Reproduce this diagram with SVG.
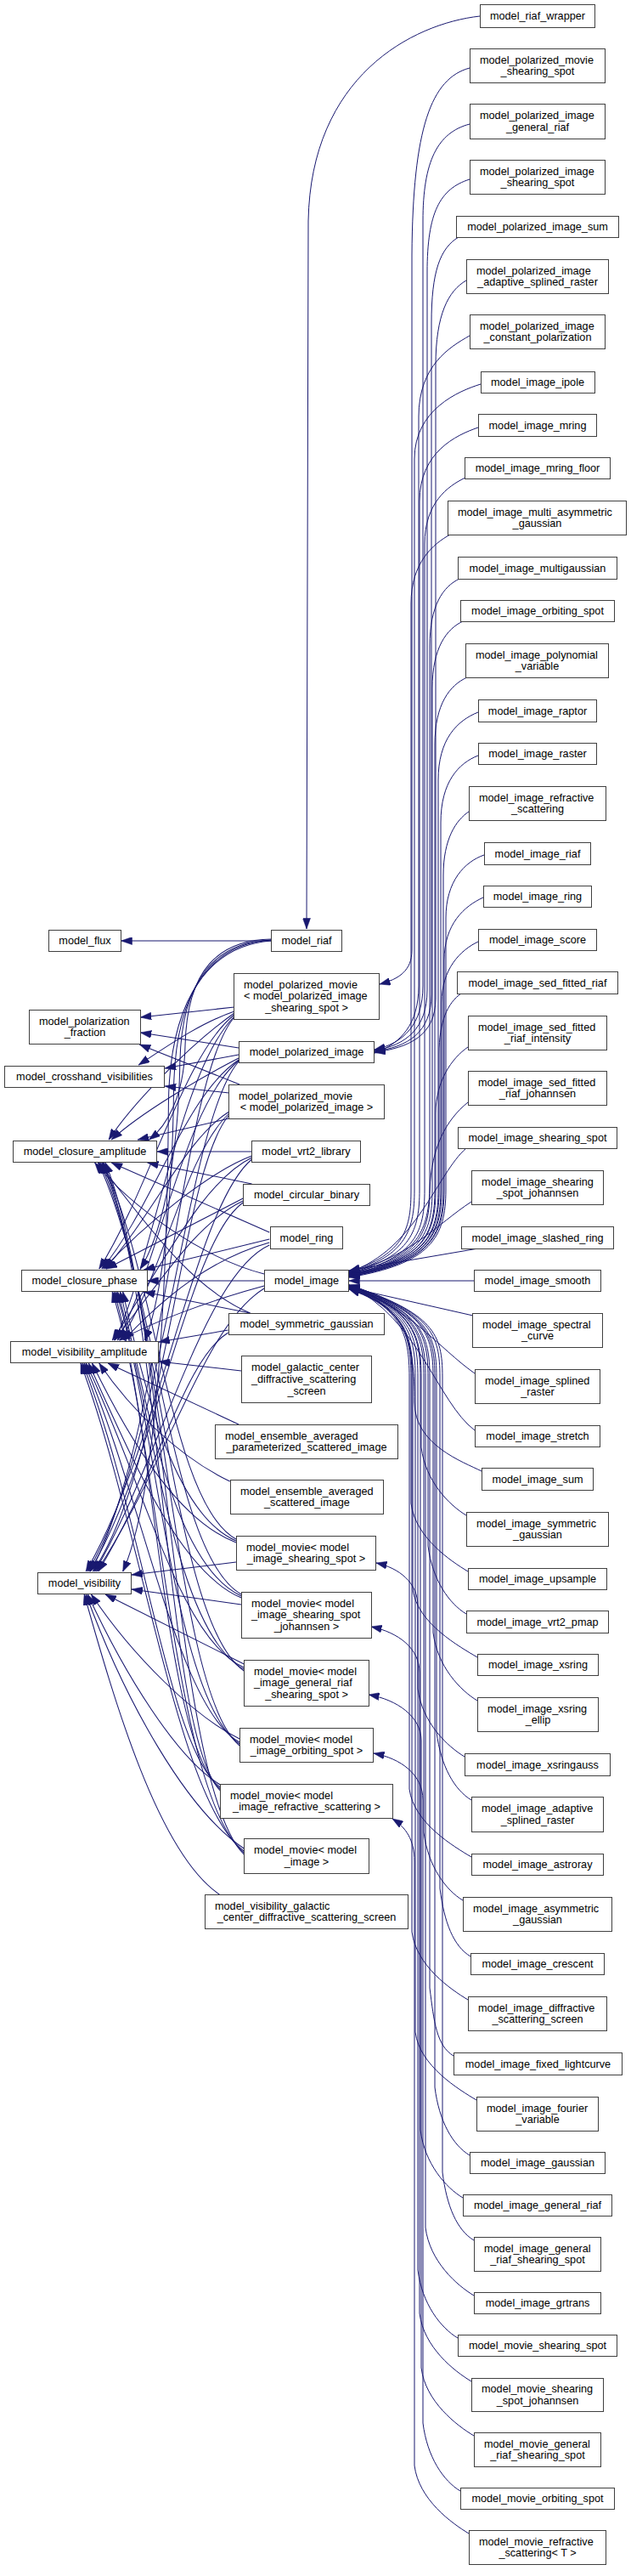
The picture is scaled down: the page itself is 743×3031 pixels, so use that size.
<svg xmlns="http://www.w3.org/2000/svg" width="743" height="3031" viewBox="0 0 743 3031">
<defs>
<marker id="ah" markerWidth="13" markerHeight="9" refX="12.5" refY="4.5" orient="auto" markerUnits="userSpaceOnUse"><path d="M0,0L12.5,4.5L0,9z" fill="#191970" stroke="#191970" stroke-width="0.5"/></marker>
<style>
.n rect{fill:#fff;stroke:#404040;stroke-width:1}
.n text{font-family:"Liberation Sans",Arial,Helvetica,sans-serif;font-size:12.7px;fill:#000;text-anchor:middle}
.n text.l{text-anchor:start}
.e path{fill:none;stroke:#191970;stroke-width:1;marker-end:url(#ah)}
</style>
</defs>
<g id="connectors" class="e">
<path d="M565,19 C485,28 366,90 363,260 L361,1093"/>
<path d="M553,80 C508,92 486,150 485,300 L485,1118 C485,1142 470,1152 447,1158"/>
<path d="M553,146 C515,156 498,190 498,260 L498,1160 C498,1205 475,1228 441,1235"/>
<path d="M553,211 C518,222 503,250 503,320 L503,1165 C503,1210 478,1230 441,1236"/>
<path d="M540,279 C518,292 508,320 508,380 L508,1170 C508,1215 480,1232 441,1237"/>
<path d="M549,330 C528,342 513,370 513,430 L513,1175 C513,1218 482,1233 441,1238"/>
<path d="M553,395 C530,408 493,430 493,490 L493,1160 C493,1205 472,1228 441,1239"/>
<path d="M566,452 C540,460 488,482 488,540 L488,1400 C488,1445 480,1478 411,1497"/>
<path d="M563,503 C537,512 494,532 494,590 L494,1400 C494,1447 485,1479 411,1498"/>
<path d="M548,562 C527,572 500,592 500,640 L500,1400 C500,1449 490,1480 411,1499"/>
<path d="M530,629 C510,640 484,662 484,710 L484,1400 C484,1443 478,1476 411,1496"/>
<path d="M541,681 C522,690 506,712 506,760 L506,1400 C506,1450 495,1481 411,1500"/>
<path d="M545,731 C526,740 509,762 509,810 L509,1400 C509,1451 497,1482 411,1500"/>
<path d="M550,797 C530,806 512,828 512,876 L512,1400 C512,1452 499,1483 411,1501"/>
<path d="M563,838 C538,848 516,870 516,918 L516,1400 C516,1453 501,1484 411,1501"/>
<path d="M563,889 C540,898 519,920 519,968 L519,1400 C519,1454 503,1485 411,1502"/>
<path d="M552,955 C537,965 522,987 522,1030 L522,1400 C522,1455 505,1486 411,1502"/>
<path d="M570,1006 C547,1014 525,1037 525,1080 L525,1400 C525,1456 507,1487 411,1503"/>
<path d="M569,1056 C547,1066 523,1087 523,1130 L523,1400 C523,1455 506,1486 411,1502"/>
<path d="M563,1108 C542,1118 520,1140 520,1180 L520,1400 C520,1454 504,1485 411,1501"/>
<path d="M543,1169 C527,1180 517,1202 517,1240 L517,1400 C517,1453 502,1484 411,1500"/>
<path d="M551,1232 C532,1245 513,1272 513,1310 L513,1400 C513,1452 500,1483 411,1499"/>
<path d="M551,1297 C525,1318 508,1350 506,1400 C504,1450 490,1482 411,1498"/>
<path d="M549,1351 C515,1380 490,1470 411,1497"/>
<path d="M555,1414 C515,1440 480,1482 411,1496"/>
<path d="M563,1469 L411,1495"/>
<path d="M558,1507 L411,1507"/>
<path d="M557,1548 L411,1515"/>
<path d="M559,1616 C515,1585 485,1540 411,1514"/>
<path d="M559,1683 C515,1650 492,1550 411,1513"/>
<path d="M567,1731 C545,1720 488,1700 488,1650 C488,1580 480,1540 411,1513"/>
<path d="M549,1783 C529,1771 501,1743 496,1703 L496,1620 C496,1570 486,1540 411,1514"/>
<path d="M551,1849 C531,1837 489,1809 484,1769 L484,1620 C484,1570 474,1538 411,1515"/>
<path d="M549,1899 C529,1887 509,1859 504,1819 L504,1620 C504,1570 494,1541 411,1514"/>
<path d="M562,1950 C542,1938 491,1910 486,1870 L486,1620 C486,1570 476,1539 411,1516"/>
<path d="M562,2001 C542,1989 515,1961 510,1921 L510,1620 C510,1570 500,1542 411,1513"/>
<path d="M547,2067 C527,2055 497,2027 492,1987 L492,1620 C492,1570 482,1540 411,1515"/>
<path d="M555,2118 C535,2106 519,2078 514,2038 L514,1620 C514,1570 504,1543 411,1512"/>
<path d="M555,2185 C535,2173 487,2145 482,2105 L482,1620 C482,1570 472,1538 411,1516"/>
<path d="M545,2236 C525,2224 504,2196 499,2156 L499,1620 C499,1570 489,1541 411,1514"/>
<path d="M554,2302 C534,2290 523,2262 518,2222 L518,1620 C518,1570 508,1544 411,1512"/>
<path d="M551,2353 C531,2341 490,2313 485,2273 L485,1620 C485,1570 475,1539 411,1517"/>
<path d="M534,2419 C514,2407 511,2379 506,2339 L506,1620 C506,1570 496,1542 411,1513"/>
<path d="M561,2471 C541,2459 494,2431 489,2391 L489,1620 C489,1570 479,1540 411,1516"/>
<path d="M553,2536 C533,2524 517,2496 512,2456 L512,1620 C512,1570 502,1543 411,1513"/>
<path d="M545,2586 C525,2574 500,2546 495,2506 L495,1620 C495,1570 485,1540 411,1515"/>
<path d="M558,2636 C538,2624 526,2596 521,2556 L521,1620 C521,1570 511,1545 411,1512"/>
<path d="M558,2701 C538,2689 506,2661 501,2621 L501,1620 C501,1570 491,1541 411,1514"/>
<path d="M539,2751 C519,2739 497,2711 492,2671 L492,1890 C492,1862 470,1845 443,1839"/>
<path d="M555,2802 C535,2790 499,2762 494,2722 L494,1968 C494,1940 470,1921 437,1914"/>
<path d="M558,2866 C538,2854 501,2826 496,2786 L496,2048 C496,2020 468,2000 434,1994"/>
<path d="M542,2931 C522,2919 503,2891 498,2851 L498,2118 C498,2088 472,2069 440,2063"/>
<path d="M552,2981 C532,2969 493,2941 488,2901 L488,2190 C488,2165 478,2150 462,2140"/>
<g transform="matrix(1.0333,0,0,1,0,0)">
<path d="M309,1107 L138,1107"/>
<path d="M309,1105 C250,1106 213,1140 211,1230 C210,1290 190,1325 170,1341"/>
<path d="M309,1106 C248,1108 207,1150 205,1250 C203,1380 180,1460 160,1493"/>
<path d="M309,1106 C245,1110 200,1160 198,1280 C196,1450 180,1540 165,1577"/>
<path d="M309,1107 C242,1112 193,1170 192,1300 C190,1600 170,1780 140,1849"/>
<path d="M267,1185 L160,1197"/>
<path d="M267,1190 C225,1205 185,1235 158,1253"/>
<path d="M267,1192 C215,1230 150,1300 124,1341"/>
<path d="M267,1194 C210,1240 170,1400 113,1493"/>
<path d="M267,1196 C205,1260 175,1480 131,1577"/>
<path d="M267,1197 C205,1270 185,1700 103,1849"/>
<path d="M272,1233 L160,1215"/>
<path d="M272,1241 L188,1257"/>
<path d="M272,1245 C225,1270 160,1310 127,1341"/>
<path d="M272,1247 C210,1290 175,1420 116,1493"/>
<path d="M272,1248 C210,1300 180,1490 134,1577"/>
<path d="M272,1249 C212,1320 188,1700 100,1849"/>
<path d="M273,1276 L159,1229"/>
<path d="M261,1286 L188,1278"/>
<path d="M261,1316 L157,1341"/>
<path d="M261,1308 C212,1340 180,1420 120,1493"/>
<path d="M261,1310 C210,1360 186,1500 137,1577"/>
<path d="M261,1312 C205,1380 190,1720 106,1849"/>
<path d="M287,1355 L179,1355"/>
<path d="M287,1360 C240,1378 165,1440 118,1493"/>
<path d="M287,1362 C232,1390 190,1480 128,1577"/>
<path d="M287,1364 C222,1420 182,1700 98,1849"/>
<path d="M287,1393 L168,1368"/>
<path d="M277,1410 L121,1493"/>
<path d="M277,1413 C222,1440 182,1510 130,1577"/>
<path d="M277,1415 C215,1460 178,1720 102,1849"/>
<path d="M307,1450 L127,1368"/>
<path d="M307,1458 L164,1494"/>
<path d="M307,1462 C245,1480 192,1520 141,1577"/>
<path d="M307,1465 C232,1500 182,1720 108,1849"/>
<path d="M301,1499 C230,1480 150,1420 108,1368"/>
<path d="M301,1507 L168,1507"/>
<path d="M301,1513 C240,1530 175,1555 136,1577"/>
<path d="M301,1516 C232,1560 192,1720 110,1849"/>
<path d="M285,1545 C215,1515 160,1430 112,1368"/>
<path d="M285,1545 L164,1520"/>
<path d="M260,1565 L181,1579"/>
<path d="M260,1568 C210,1600 182,1730 112,1849"/>
<path d="M275,1613 L181,1602"/>
<path d="M272,1676 L123,1604"/>
<path d="M262,1743 C205,1715 150,1660 113,1604"/>
<path d="M269,1838 L150,1853"/>
<path d="M269,1815 C205,1790 150,1700 105,1604"/>
<path d="M269,1813 C195,1780 162,1620 140,1520"/>
<path d="M269,1811 C195,1770 178,1500 117,1368"/>
<path d="M275,1888 L150,1870"/>
<path d="M275,1880 C205,1850 152,1720 101,1604"/>
<path d="M275,1878 C195,1840 166,1640 137,1520"/>
<path d="M275,1876 C195,1830 180,1520 112,1368"/>
<path d="M278,1958 L120,1876"/>
<path d="M278,1962 C205,1930 162,1740 98,1604"/>
<path d="M278,1964 C197,1920 172,1650 134,1520"/>
<path d="M278,1966 C197,1910 182,1520 114,1368"/>
<path d="M273,2046 C222,2020 152,1950 104,1876"/>
<path d="M273,2050 C202,2010 162,1760 96,1604"/>
<path d="M273,2052 C197,2000 177,1660 132,1520"/>
<path d="M273,2054 C197,1990 187,1530 116,1368"/>
<path d="M251,2100 C202,2070 142,1970 100,1876"/>
<path d="M251,2103 C192,2060 162,1780 94,1604"/>
<path d="M251,2105 C187,2050 177,1680 130,1520"/>
<path d="M251,2107 C187,2040 187,1540 118,1368"/>
<path d="M278,2175 C212,2130 142,2000 98,1876"/>
<path d="M278,2178 C202,2120 162,1800 92,1604"/>
<path d="M278,2180 C197,2110 182,1700 128,1520"/>
<path d="M278,2182 C197,2100 192,1550 120,1368"/>
<path d="M250,2229 C180,2180 130,2000 96,1876"/>
</g>
</g>
<g id="model_riaf_wrapper" class="n"><rect x="565.5" y="5.5" width="135" height="27"/><text x="633" y="23">model_riaf_wrapper</text></g>
<g id="model_polarized_movie_shearing_spot" class="n"><rect x="553.5" y="57.5" width="159" height="40"/><text class="l" x="565" y="74.5">model_polarized_movie</text><text x="633" y="88.2">_shearing_spot</text></g>
<g id="model_polarized_image_general_riaf" class="n"><rect x="553.5" y="122.5" width="159" height="41"/><text class="l" x="565" y="140">model_polarized_image</text><text x="633" y="153.7">_general_riaf</text></g>
<g id="model_polarized_image_shearing_spot" class="n"><rect x="553.5" y="188.5" width="159" height="40"/><text class="l" x="565" y="205.5">model_polarized_image</text><text x="633" y="219.2">_shearing_spot</text></g>
<g id="model_polarized_image_sum" class="n"><rect x="537.5" y="254.5" width="191" height="25"/><text x="633" y="271">model_polarized_image_sum</text></g>
<g id="model_polarized_image_adaptive_splined_raster" class="n"><rect x="549.5" y="305.5" width="167" height="40"/><text class="l" x="561" y="322.5">model_polarized_image</text><text x="633" y="336.2">_adaptive_splined_raster</text></g>
<g id="model_polarized_image_constant_polarization" class="n"><rect x="553.5" y="370.5" width="159" height="40"/><text class="l" x="565" y="387.5">model_polarized_image</text><text x="633" y="401.2">_constant_polarization</text></g>
<g id="model_image_ipole" class="n"><rect x="566.5" y="437.5" width="134" height="25"/><text x="633" y="454">model_image_ipole</text></g>
<g id="model_image_mring" class="n"><rect x="563.5" y="487.5" width="139" height="26"/><text x="633" y="504.5">model_image_mring</text></g>
<g id="model_image_mring_floor" class="n"><rect x="547.5" y="538.5" width="171" height="25"/><text x="633" y="555">model_image_mring_floor</text></g>
<g id="model_image_multi_asymmetric_gaussian" class="n"><rect x="527.5" y="589.5" width="210" height="40"/><text class="l" x="539" y="606.5">model_image_multi_asymmetric</text><text x="632.5" y="620.2">_gaussian</text></g>
<g id="model_image_multigaussian" class="n"><rect x="539.5" y="655.5" width="187" height="26"/><text x="633" y="672.5">model_image_multigaussian</text></g>
<g id="model_image_orbiting_spot" class="n"><rect x="542.5" y="706.5" width="181" height="25"/><text x="633" y="723">model_image_orbiting_spot</text></g>
<g id="model_image_polynomial_variable" class="n"><rect x="548.5" y="757.5" width="168" height="40"/><text class="l" x="560" y="774.5">model_image_polynomial</text><text x="632.5" y="788.2">_variable</text></g>
<g id="model_image_raptor" class="n"><rect x="563.5" y="823.5" width="139" height="26"/><text x="633" y="840.5">model_image_raptor</text></g>
<g id="model_image_raster" class="n"><rect x="563.5" y="874.5" width="139" height="25"/><text x="633" y="891">model_image_raster</text></g>
<g id="model_image_refractive_scattering" class="n"><rect x="552.5" y="925.5" width="161" height="40"/><text class="l" x="564" y="942.5">model_image_refractive</text><text x="633" y="956.2">_scattering</text></g>
<g id="model_image_riaf" class="n"><rect x="570.5" y="991.5" width="125" height="26"/><text x="633" y="1008.5">model_image_riaf</text></g>
<g id="model_image_ring" class="n"><rect x="569.5" y="1042.5" width="127" height="25"/><text x="633" y="1059">model_image_ring</text></g>
<g id="model_image_score" class="n"><rect x="563.5" y="1093.5" width="139" height="25"/><text x="633" y="1110">model_image_score</text></g>
<g id="model_image_sed_fitted_riaf" class="n"><rect x="538.5" y="1143.5" width="189" height="26"/><text x="633" y="1160.5">model_image_sed_fitted_riaf</text></g>
<g id="model_image_sed_fitted_riaf_intensity" class="n"><rect x="551.5" y="1195.5" width="163" height="40"/><text class="l" x="563" y="1212.5">model_image_sed_fitted</text><text x="633" y="1226.2">_riaf_intensity</text></g>
<g id="model_image_sed_fitted_riaf_johannsen" class="n"><rect x="551.5" y="1260.5" width="163" height="40"/><text class="l" x="563" y="1277.5">model_image_sed_fitted</text><text x="633" y="1291.2">_riaf_johannsen</text></g>
<g id="model_image_shearing_spot" class="n"><rect x="539.5" y="1326.5" width="187" height="25"/><text x="633" y="1343">model_image_shearing_spot</text></g>
<g id="model_image_shearing_spot_johannsen" class="n"><rect x="555.5" y="1377.5" width="155" height="40"/><text class="l" x="567" y="1394.5">model_image_shearing</text><text x="633" y="1408.2">_spot_johannsen</text></g>
<g id="model_image_slashed_ring" class="n"><rect x="543.5" y="1443.5" width="179" height="26"/><text x="633" y="1460.5">model_image_slashed_ring</text></g>
<g id="model_image_smooth" class="n"><rect x="558.5" y="1494.5" width="149" height="25"/><text x="633" y="1511">model_image_smooth</text></g>
<g id="model_image_spectral_curve" class="n"><rect x="556.5" y="1545.5" width="153" height="40"/><text class="l" x="568" y="1562.5">model_image_spectral</text><text x="633" y="1576.2">_curve</text></g>
<g id="model_image_splined_raster" class="n"><rect x="559.5" y="1611.5" width="147" height="40"/><text class="l" x="571" y="1628.5">model_image_splined</text><text x="633" y="1642.2">_raster</text></g>
<g id="model_image_stretch" class="n"><rect x="559.5" y="1677.5" width="147" height="25"/><text x="633" y="1694">model_image_stretch</text></g>
<g id="model_image_sum" class="n"><rect x="567.5" y="1727.5" width="131" height="26"/><text x="633" y="1744.5">model_image_sum</text></g>
<g id="model_image_symmetric_gaussian" class="n"><rect x="549.5" y="1779.5" width="167" height="40"/><text class="l" x="561" y="1796.5">model_image_symmetric</text><text x="633" y="1810.2">_gaussian</text></g>
<g id="model_image_upsample" class="n"><rect x="551.5" y="1845.5" width="163" height="25"/><text x="633" y="1862">model_image_upsample</text></g>
<g id="model_image_vrt2_pmap" class="n"><rect x="549.5" y="1895.5" width="167" height="26"/><text x="633" y="1912.5">model_image_vrt2_pmap</text></g>
<g id="model_image_xsring" class="n"><rect x="562.5" y="1946.5" width="142" height="25"/><text x="633.5" y="1963">model_image_xsring</text></g>
<g id="model_image_xsring_ellip" class="n"><rect x="562.5" y="1997.5" width="142" height="40"/><text class="l" x="574" y="2014.5">model_image_xsring</text><text x="633.5" y="2028.2">_ellip</text></g>
<g id="model_image_xsringauss" class="n"><rect x="547.5" y="2063.5" width="171" height="26"/><text x="633" y="2080.5">model_image_xsringauss</text></g>
<g id="model_image_adaptive_splined_raster" class="n"><rect x="555.5" y="2114.5" width="155" height="41"/><text class="l" x="567" y="2132">model_image_adaptive</text><text x="633" y="2145.7">_splined_raster</text></g>
<g id="model_image_astroray" class="n"><rect x="555.5" y="2181.5" width="155" height="25"/><text x="633" y="2198">model_image_astroray</text></g>
<g id="model_image_asymmetric_gaussian" class="n"><rect x="545.5" y="2232.5" width="175" height="40"/><text class="l" x="557" y="2249.5">model_image_asymmetric</text><text x="633" y="2263.2">_gaussian</text></g>
<g id="model_image_crescent" class="n"><rect x="554.5" y="2298.5" width="157" height="25"/><text x="633" y="2315">model_image_crescent</text></g>
<g id="model_image_diffractive_scattering_screen" class="n"><rect x="551.5" y="2349.5" width="163" height="40"/><text class="l" x="563" y="2366.5">model_image_diffractive</text><text x="633" y="2380.2">_scattering_screen</text></g>
<g id="model_image_fixed_lightcurve" class="n"><rect x="534.5" y="2415.5" width="198" height="26"/><text x="633.5" y="2432.5">model_image_fixed_lightcurve</text></g>
<g id="model_image_fourier_variable" class="n"><rect x="561.5" y="2467.5" width="143" height="40"/><text class="l" x="573" y="2484.5">model_image_fourier</text><text x="633" y="2498.2">_variable</text></g>
<g id="model_image_gaussian" class="n"><rect x="553.5" y="2532.5" width="159" height="25"/><text x="633" y="2549">model_image_gaussian</text></g>
<g id="model_image_general_riaf" class="n"><rect x="545.5" y="2582.5" width="175" height="25"/><text x="633" y="2599">model_image_general_riaf</text></g>
<g id="model_image_general_riaf_shearing_spot" class="n"><rect x="558.5" y="2632.5" width="149" height="40"/><text class="l" x="570" y="2649.5">model_image_general</text><text x="633" y="2663.2">_riaf_shearing_spot</text></g>
<g id="model_image_grtrans" class="n"><rect x="558.5" y="2697.5" width="149" height="25"/><text x="633" y="2714">model_image_grtrans</text></g>
<g id="model_movie_shearing_spot" class="n"><rect x="539.5" y="2747.5" width="187" height="25"/><text x="633" y="2764">model_movie_shearing_spot</text></g>
<g id="model_movie_shearing_spot_johannsen" class="n"><rect x="555.5" y="2798.5" width="155" height="39"/><text class="l" x="567" y="2815">model_movie_shearing</text><text x="633" y="2828.7">_spot_johannsen</text></g>
<g id="model_movie_general_riaf_shearing_spot" class="n"><rect x="558.5" y="2862.5" width="149" height="40"/><text class="l" x="570" y="2879.5">model_movie_general</text><text x="633" y="2893.2">_riaf_shearing_spot</text></g>
<g id="model_movie_orbiting_spot" class="n"><rect x="542.5" y="2927.5" width="181" height="25"/><text x="633" y="2944">model_movie_orbiting_spot</text></g>
<g id="model_movie_refractive_scattering_T" class="n"><rect x="552.5" y="2977.5" width="161" height="40"/><text class="l" x="564" y="2994.5">model_movie_refractive</text><text x="633" y="3008.2">_scattering&lt; T &gt;</text></g>
<g id="model_flux" class="n"><rect x="57.5" y="1094.5" width="85" height="25"/><text x="100" y="1111">model_flux</text></g>
<g id="model_riaf" class="n"><rect x="319.5" y="1094.5" width="83" height="25"/><text x="361" y="1111">model_riaf</text></g>
<g id="model_polarized_movie_pol_image_shearing_spot" class="n"><rect x="275.5" y="1145.5" width="171" height="54"/><text class="l" x="287" y="1162.6">model_polarized_movie</text><text class="l" x="287" y="1176.3">&lt; model_polarized_image</text><text x="361" y="1190">_shearing_spot &gt;</text></g>
<g id="model_polarization_fraction" class="n"><rect x="34.5" y="1188.5" width="131" height="40"/><text class="l" x="46" y="1205.5">model_polarization</text><text x="100" y="1219.2">_fraction</text></g>
<g id="model_polarized_image" class="n"><rect x="281.5" y="1225.5" width="159" height="25"/><text x="361" y="1242">model_polarized_image</text></g>
<g id="model_crosshand_visibilities" class="n"><rect x="5.5" y="1254.5" width="188" height="25"/><text x="99.5" y="1271">model_crosshand_visibilities</text></g>
<g id="model_polarized_movie_pol_image" class="n"><rect x="269.5" y="1276.5" width="183" height="40"/><text class="l" x="281" y="1293.5">model_polarized_movie</text><text x="361" y="1307.2">&lt; model_polarized_image &gt;</text></g>
<g id="model_closure_amplitude" class="n"><rect x="15.5" y="1342.5" width="169" height="25"/><text x="100" y="1359">model_closure_amplitude</text></g>
<g id="model_vrt2_library" class="n"><rect x="296.5" y="1342.5" width="128" height="25"/><text x="360.5" y="1359">model_vrt2_library</text></g>
<g id="model_circular_binary" class="n"><rect x="286.5" y="1393.5" width="149" height="25"/><text x="361" y="1410">model_circular_binary</text></g>
<g id="model_ring" class="n"><rect x="318.5" y="1443.5" width="85" height="26"/><text x="361" y="1460.5">model_ring</text></g>
<g id="model_closure_phase" class="n"><rect x="25.5" y="1494.5" width="148" height="25"/><text x="99.5" y="1511">model_closure_phase</text></g>
<g id="model_image" class="n"><rect x="311.5" y="1494.5" width="99" height="25"/><text x="361" y="1511">model_image</text></g>
<g id="model_symmetric_gaussian" class="n"><rect x="269.5" y="1545.5" width="183" height="25"/><text x="361" y="1562">model_symmetric_gaussian</text></g>
<g id="model_visibility_amplitude" class="n"><rect x="12.5" y="1578.5" width="174" height="25"/><text x="99.5" y="1595">model_visibility_amplitude</text></g>
<g id="model_galactic_center_diffractive_scattering_screen" class="n"><rect x="284.5" y="1595.5" width="153" height="55"/><text class="l" x="296" y="1613.1">model_galactic_center</text><text class="l" x="296" y="1626.8">_diffractive_scattering</text><text x="361" y="1640.5">_screen</text></g>
<g id="model_ensemble_averaged_parameterized_scattered_image" class="n"><rect x="253.5" y="1676.5" width="215" height="40"/><text class="l" x="265" y="1693.5">model_ensemble_averaged</text><text x="361" y="1707.2">_parameterized_scattered_image</text></g>
<g id="model_ensemble_averaged_scattered_image" class="n"><rect x="271.5" y="1741.5" width="180" height="40"/><text class="l" x="283" y="1758.5">model_ensemble_averaged</text><text x="361.5" y="1772.2">_scattered_image</text></g>
<g id="model_movie_image_shearing_spot" class="n"><rect x="278.5" y="1807.5" width="164" height="40"/><text class="l" x="290" y="1824.5">model_movie&lt; model</text><text x="360.5" y="1838.2">_image_shearing_spot &gt;</text></g>
<g id="model_visibility" class="n"><rect x="44.5" y="1850.5" width="110" height="25"/><text x="99.5" y="1867">model_visibility</text></g>
<g id="model_movie_image_shearing_spot_johannsen" class="n"><rect x="284.5" y="1873.5" width="153" height="54"/><text class="l" x="296" y="1890.6">model_movie&lt; model</text><text class="l" x="296" y="1904.3">_image_shearing_spot</text><text x="361" y="1918">_johannsen &gt;</text></g>
<g id="model_movie_image_general_riaf_shearing_spot" class="n"><rect x="287.5" y="1953.5" width="147" height="54"/><text class="l" x="299" y="1970.6">model_movie&lt; model</text><text class="l" x="299" y="1984.3">_image_general_riaf</text><text x="361" y="1998">_shearing_spot &gt;</text></g>
<g id="model_movie_image_orbiting_spot" class="n"><rect x="282.5" y="2033.5" width="157" height="40"/><text class="l" x="294" y="2050.5">model_movie&lt; model</text><text x="361" y="2064.2">_image_orbiting_spot &gt;</text></g>
<g id="model_movie_image_refractive_scattering" class="n"><rect x="259.5" y="2099.5" width="203" height="40"/><text class="l" x="271" y="2116.5">model_movie&lt; model</text><text x="361" y="2130.2">_image_refractive_scattering &gt;</text></g>
<g id="model_movie_image" class="n"><rect x="287.5" y="2163.5" width="147" height="41"/><text class="l" x="299" y="2181">model_movie&lt; model</text><text x="361" y="2194.7">_image &gt;</text></g>
<g id="model_visibility_galactic_center_diffractive_scattering_screen" class="n"><rect x="241.5" y="2229.5" width="239" height="40"/><text class="l" x="253" y="2246.5">model_visibility_galactic</text><text x="361" y="2260.2">_center_diffractive_scattering_screen</text></g>
</svg>
